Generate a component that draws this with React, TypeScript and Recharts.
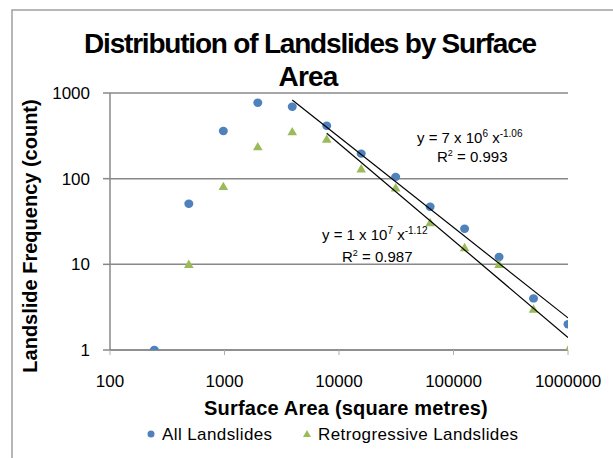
import React from 'react';
import { ScatterChart, Scatter, XAxis, YAxis, CartesianGrid } from 'recharts';

// surface area bins (m²) and landslide counts
const allAreas = [244, 488, 977, 1953, 3906, 7813, 15625, 31250, 62500, 125000, 250000, 500000, 1000000];
const allCounts = [1, 51, 360, 770, 690, 415, 196, 105, 47, 26, 12.2, 4, 2];

const retroAreas = [488, 977, 1953, 3906, 7813, 15625, 31250, 62500, 125000, 250000, 500000, 1000000];
const retroCounts = [10, 81, 236, 353, 290, 130, 78, 30.7, 15.7, 10, 3, 1];

// power-law trendline end points
const allFitAreas = [3906, 1000000];
const allFitCounts = [828, 2.37];
const retroFitAreas = [7813, 1000000];
const retroFitCounts = [339, 1.4];

const xTicks = [100, 1000, 10000, 100000, 1000000];
const yTicks = [1, 10, 100, 1000];

const BLUE = '#4F81BD';
const GREEN = '#9BBB59';
const GRID = '#888888';
const FONT = '"Liberation Sans", Arial, sans-serif';

const toPoints = (xs: number[], ys: number[]) => xs.map((x, i) => ({ x, y: ys[i] }));

const allData = toPoints(allAreas, allCounts);
const retroData = toPoints(retroAreas, retroCounts);
const allFit = toPoints(allFitAreas, allFitCounts);
const retroFit = toPoints(retroFitAreas, retroFitCounts);

const Dot = (props: any) => {
  const { cx, cy } = props;
  return <ellipse cx={cx} cy={cy} rx={4.5} ry={4.2} fill={BLUE} />;
};

const Tri = (props: any) => {
  const { cx, cy } = props;
  return <path d={`M${cx},${cy - 4.8} L${cx + 4.8},${cy + 3.6} L${cx - 4.8},${cy + 3.6} Z`} fill={GREEN} />;
};

const NoMark = () => <g />;

export default function App() {
  return (
    <div style={{ position: 'absolute', left: 0, top: 0, width: 613, height: 458, background: '#fff', fontFamily: FONT }}>
      <ScatterChart width={613} height={458} margin={{ top: 93, right: 45, bottom: 58, left: 50 }}>
        <CartesianGrid vertical={false} stroke={GRID} strokeWidth={1.5} />
        <XAxis
          type="number"
          dataKey="x"
          scale="log"
          domain={[100, 1000000]}
          ticks={xTicks}
          allowDataOverflow
          height={50}
          tickSize={5}
          tickMargin={20}
          axisLine={{ stroke: GRID, strokeWidth: 1.5 }}
          tickLine={{ stroke: '#b0b0b0' }}
          tick={{ fill: '#000', fontSize: 17, fontFamily: FONT }}
          tickFormatter={(v: number) => String(v)}
        />
        <YAxis
          type="number"
          dataKey="y"
          scale="log"
          domain={[1, 1000]}
          ticks={yTicks}
          allowDataOverflow
          width={60}
          tickSize={7}
          tickMargin={13}
          axisLine={{ stroke: GRID, strokeWidth: 1.5 }}
          tickLine={{ stroke: GRID, strokeWidth: 1.5 }}
          tick={{ fill: '#000', fontSize: 17, fontFamily: FONT }}
          tickFormatter={(v: number) => String(v)}
        />
        <Scatter name="All Landslides" data={allData} shape={Dot} isAnimationActive={false} />
        <Scatter name="Retrogressive Landslides" data={retroData} shape={Tri} isAnimationActive={false} />
        <Scatter data={allFit} shape={NoMark} line={{ stroke: '#000', strokeWidth: 1.2 }} legendType="none" isAnimationActive={false} />
        <Scatter data={retroFit} shape={NoMark} line={{ stroke: '#000', strokeWidth: 1.2 }} legendType="none" isAnimationActive={false} />
      </ScatterChart>

      <svg width={613} height={458} style={{ position: 'absolute', left: 0, top: 0, pointerEvents: 'none' }} fontFamily={FONT}>
        <rect x={12} y={10} width={700} height={600} fill="none" stroke="#a0a0a0" strokeWidth={1.5} />

        <text x={310} y={53} textAnchor="middle" fontSize={28} fontWeight="bold" letterSpacing={-1.2}>
          Distribution of Landslides by Surface
        </text>
        <text x={308} y={86} textAnchor="middle" fontSize={28} fontWeight="bold" letterSpacing={-0.8}>
          Area
        </text>

        <text x={37} y={236} transform="rotate(-90, 37, 236)" textAnchor="middle" fontSize={20} fontWeight="bold" letterSpacing={0}>
          Landslide Frequency (count)
        </text>
        <text x={346} y={415} textAnchor="middle" fontSize={20} fontWeight="bold" letterSpacing={0.2}>
          Surface Area (square metres)
        </text>

        <text x={417} y={143} fontSize={15}>
          y = 7 x 10<tspan dy={-6} fontSize={10}>6</tspan><tspan dy={6}> x</tspan><tspan dy={-6} fontSize={10}>-1.06</tspan>
        </text>
        <text x={437} y={162} fontSize={15}>
          R<tspan dy={-6} fontSize={9}>2</tspan><tspan dy={6}> = 0.993</tspan>
        </text>
        <text x={322} y={240} fontSize={15}>
          y = 1 x 10<tspan dy={-6} fontSize={10}>7</tspan><tspan dy={6}> x</tspan><tspan dy={-6} fontSize={10}>-1.12</tspan>
        </text>
        <text x={342} y={262} fontSize={15}>
          R<tspan dy={-6} fontSize={9}>2</tspan><tspan dy={6}> = 0.987</tspan>
        </text>

        <circle cx={151} cy={434} r={3.5} fill={BLUE} />
        <text x={162} y={440} fontSize={17} letterSpacing={0.4}>All Landslides</text>
        <path d="M307,430 L311,437 L303,437 Z" fill={GREEN} />
        <text x={318} y={440} fontSize={17} letterSpacing={0.4}>Retrogressive Landslides</text>
      </svg>
    </div>
  );
}
